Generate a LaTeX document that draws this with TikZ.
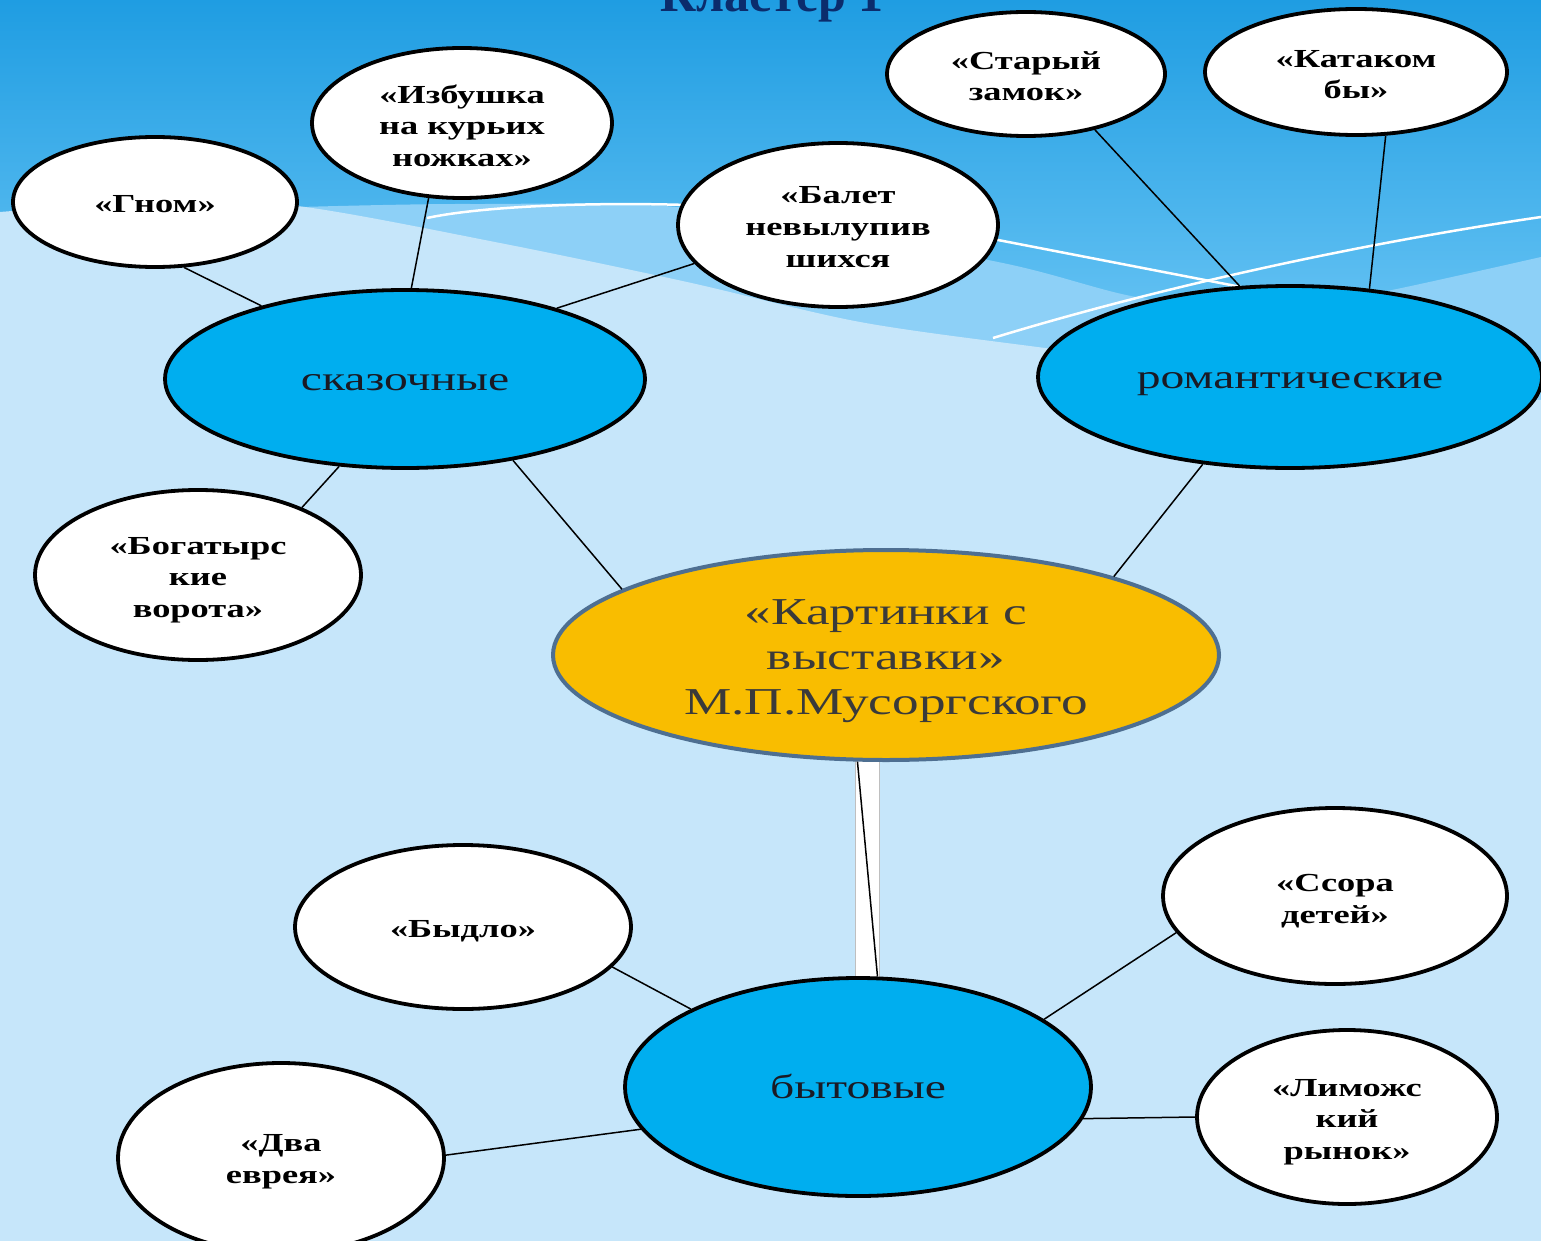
\documentclass[tikz,border=0pt]{standalone}
\usepackage{fontspec}
\setmainfont{Liberation Serif}[FakeStretch=1.4]
\newfontfamily\titlefont{Liberation Serif}
\usetikzlibrary{shapes.geometric}
\definecolor{bgtop}{HTML}{1F9DE2}
\definecolor{bgmid}{HTML}{6CC6F5}
\definecolor{bandblue}{HTML}{8DD0F7}
\definecolor{lightblue}{HTML}{C6E6FA}
\definecolor{cyanfill}{HTML}{00AEEF}
\definecolor{centerfill}{HTML}{F9BD00}
\definecolor{centerborder}{HTML}{4E6F91}
\definecolor{centertext}{HTML}{3A3A3A}
\definecolor{clustertext}{HTML}{1A1A24}
\definecolor{titleblue}{HTML}{0B2C6C}
\tikzset{
  leaf/.style={ellipse, draw=black, line width=3.8pt, fill=white, inner sep=0pt,
    align=center, text=black, text height=21pt, text depth=0pt,
    font=\bfseries\fontsize{26}{31.5}\selectfont},
  twolines/.style={text height=54pt},
  threelines/.style={text height=84pt},
  cluster/.style={ellipse, draw=black, line width=3.8pt, fill=cyanfill, inner sep=0pt,
    align=center, text=clustertext, text height=23pt, text depth=0pt, font=\fontsize{34}{40}\selectfont},
  centre/.style={ellipse, draw=centerborder, line width=4pt, fill=centerfill, inner sep=0pt,
    align=center, text=centertext, text height=118pt, text depth=0pt,
    font=\fontsize{38}{45}\selectfont},
  link/.style={draw=black, line width=1.5pt},
  wline/.style={draw=white, line width=2.5pt}
}
\begin{document}
\begin{tikzpicture}[x=1pt,y=-1pt]
\useasboundingbox (0,0) rectangle (1541,1241);
\clip (0,0) rectangle (1541,1241);
% background
\fill[bgmid] (0,0) rectangle (1541,1241);
\shade[top color=bgtop,bottom color=bgmid] (0,0) rectangle (1541,360);
\fill[bandblue] plot[smooth] coordinates {(300,207) (470,204) (700,209) (998,262) (1142,298) (1290,308) (1392,290) (1541,257)} -- (1541,800) -- (300,800) -- cycle;
\fill[lightblue] plot[smooth] coordinates {(0,212) (150,202) (297,206) (500,243) (687,282) (860,322) (1045,348) (1300,380) (1541,400)} -- (1541,1241) -- (0,1241) -- cycle;
\draw[wline] (427,218) .. controls (520,198) and (800,195) .. (998,240) -- (1241,287);
\draw[wline] (993,338) .. controls (1150,290) and (1350,245) .. (1541,217);
% title
\node[anchor=base, font=\titlefont\bfseries\fontsize{50}{60}\selectfont, text=titleblue] (title) at (772,12) {Кластер 1};
% white band
\draw[fill=white, draw=gray!50, line width=0.8pt] (855,755) rectangle (879,985);
% nodes
\node[centre, minimum width=666pt, minimum height=210pt] (center) at (886,655) {«Картинки с\\выставки»\\М.П.Мусоргского};
\node[cluster, minimum width=480pt, minimum height=178pt] (skaz) at (405,379) {сказочные};
\node[cluster, minimum width=504pt, minimum height=182pt] (rom) at (1290,377) {романтические};
\node[cluster, minimum width=466pt, minimum height=218pt] (byt) at (858,1087) {бытовые};
\node[leaf, minimum width=284pt, minimum height=130pt] (gnom) at (155,202) {«Гном»};
\node[leaf, threelines, text height=87pt, minimum width=300pt, minimum height=150pt] (izb) at (462,123) {«Избушка\\на курьих\\ножках»};
\node[leaf, threelines, minimum width=320pt, minimum height=164pt] (balet) at (838,225) {«Балет\\невылупив\\шихся};
\node[leaf, twolines, minimum width=278pt, minimum height=124pt] (zamok) at (1026,74) {«Старый\\замок»};
\node[leaf, twolines, minimum width=302pt, minimum height=126pt] (kata) at (1356,72) {«Катаком\\бы»};
\node[leaf, threelines, minimum width=326pt, minimum height=170pt] (bogat) at (198,575) {«Богатырс\\кие\\ворота»};
\node[leaf, minimum width=336pt, minimum height=164pt] (bydlo) at (463,927) {«Быдло»};
\node[leaf, twolines, minimum width=344pt, minimum height=176pt] (ssora) at (1335,896) {«Ссора\\детей»};
\node[leaf, threelines, minimum width=300pt, minimum height=174pt] (limo) at (1347,1117) {«Лиможс\\кий\\рынок»};
\node[leaf, twolines, text height=50pt, minimum width=326pt, minimum height=190pt] (evrei) at (281,1158) {«Два\\еврея»};
% connectors
\draw[link] (gnom.-66) -- (skaz.153);
\draw[link] (izb.-114) -- (skaz.86);
\draw[link] (balet.-165) -- (skaz.25.6);
\draw[link] (bogat.33.7) -- (skaz.-127);
\draw[link] (skaz.-37.6) -- (center.166);
\draw[link] (rom.-135) -- (center.19.9);
\draw[link] (zamok.-39.9) -- (rom.119);
\draw[link] (kata.-65) -- (rom.48);
\draw[link] (center.-105) -- (byt.80);
\draw[link] (bydlo.-15) -- (byt.155);
\draw[link] (ssora.-167) -- (byt.20.8);
\draw[link] (limo.180) -- (byt.-8.6);
\draw[link] (evrei.1.7) -- (byt.-169);
\end{tikzpicture}
\end{document}
